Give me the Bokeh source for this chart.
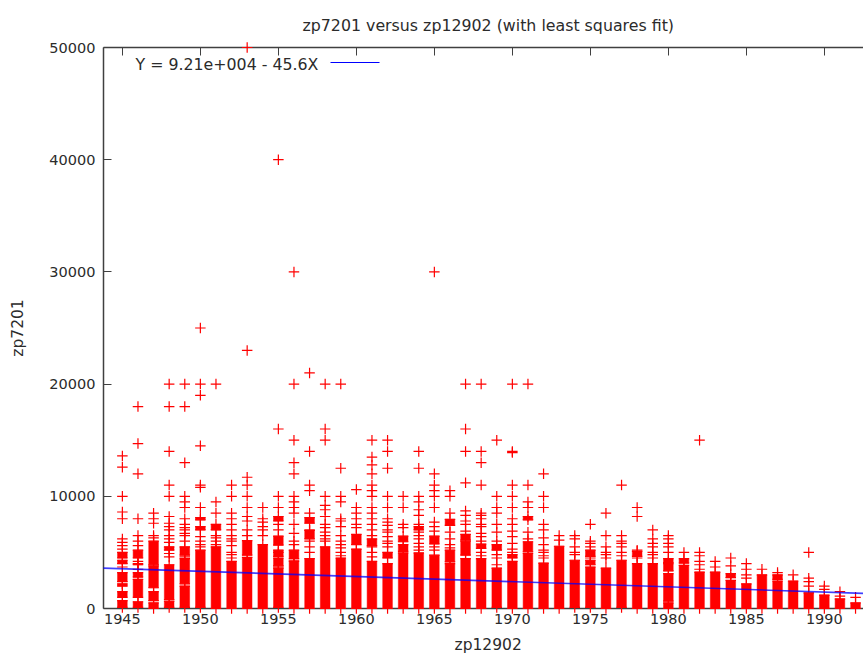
from bokeh.plotting import figure
from bokeh.models import Label, BoxAnnotation, FixedTicker, LinearAxis, Range1d, Title
from bokeh.embed import file_html
from bokeh.resources import INLINE

years = list(range(1945, 1993))
x_ticks = [1945, 1950, 1955, 1960, 1965, 1970, 1975, 1980, 1985, 1990]
y_ticks = [0, 10000, 20000, 30000, 40000, 50000]
fit_x = [1943.79, 1992.51]
fit_y = [3600, 1350]

# c = individual observations, b = (low, high) ranges so dense they read as solid
c1945 = [13600, 12600, 10000, 8600, 8000, 6200, 5900, 5600, 5300, 3700]
b1945 = [(100, 700), (1000, 1500), (2000, 2200), (2400, 3200), (4000, 4300), (4500, 5000)]
c1946 = [18000, 14700, 12000, 8000, 6500, 6000, 5600, 4200, 3500]
b1946 = [(100, 600), (1000, 2600), (2800, 3200), (3900, 4000), (4500, 5200)]
c1947 = [8500, 8000, 7600, 6500, 6300]
b1947 = [(0, 500), (700, 1500), (1850, 3800), (3900, 6000)]
c1948 = [20000, 18000, 14000, 11000, 10000, 8200, 7600, 7300, 7000, 6500, 6200, 5900, 4900, 4600]
b1948 = [(100, 650), (800, 3900), (5200, 5500)]
c1949 = [20000, 18000, 13000, 10000, 9500, 9000, 8000, 7500, 7200, 7000, 6700, 6500, 6000, 4600]
b1949 = [(100, 2000), (2200, 4450), (4750, 5500)]
c1950 = [25000, 20000, 19000, 14500, 11000, 10800, 9000, 6400, 6000, 5700, 5500]
b1950 = [(100, 5200), (7000, 7300), (7900, 8100)]
c1951 = [20000, 9500, 8500, 6500, 6300, 6000, 5700]
b1951 = [(0, 5500), (7000, 7500)]
c1952 = [11000, 10000, 8500, 8000, 7500, 7000, 6500, 6200, 6000, 5600, 5000, 4800, 4500]
b1952 = [(0, 4200)]
c1953 = [50000, 23000, 11700, 11000, 10000, 9000, 8200, 7800, 7000, 6500]
b1953 = [(0, 4550), (4750, 6050)]
c1954 = [9000, 8000, 7700, 7300, 7000, 6500]
b1954 = [(0, 5700)]
c1955 = [40000, 16000, 10000, 9000, 7500, 7000, 5000, 3700]
b1955 = [(100, 3600), (3800, 4500), (4650, 5200), (5650, 6450), (7800, 8200)]
c1956 = [30000, 20000, 15000, 13000, 12000, 10000, 9500, 9000, 8500, 7500, 6700, 6000, 5700, 4300]
b1956 = [(0, 4200), (4450, 5200)]
c1957 = [21000, 14000, 11000, 10500, 8500, 7000, 6000, 5500, 5000]
b1957 = [(0, 4450), (6200, 6950), (7600, 8100)]
c1958 = [20000, 16000, 15000, 10000, 9200, 8800, 8200, 7500, 7200, 6800, 6500, 6200, 6000]
b1958 = [(0, 5500)]
c1959 = [20000, 12500, 10000, 9500, 8000, 7800, 7300, 6500, 6000, 5700, 5400, 5000, 4700]
b1959 = [(0, 4500)]
c1960 = [10600, 9000, 8500, 8000, 7500, 7200]
b1960 = [(0, 5300), (5700, 6600)]
c1961 = [15000, 13500, 12800, 12000, 11000, 10500, 10000, 9000, 8500, 8000, 7500, 7000, 6500, 5500, 5000, 4600]
b1961 = [(0, 4200), (5600, 6200)]
c1962 = [15000, 14000, 12500, 10000, 9000, 8000, 7700, 7400, 7000, 6800, 6400, 6000, 5800, 5500]
b1962 = [(0, 4000), (4500, 5000)]
c1963 = [10000, 9000, 7500, 7200]
b1963 = [(0, 4950), (5100, 5700), (5950, 6450)]
c1964 = [14000, 12500, 10000, 9500, 8800, 8300, 7500, 6800, 6500, 6200, 5800, 5500, 5200]
b1964 = [(0, 4950), (7000, 7300)]
c1965 = [30000, 12000, 11000, 10500, 10000, 9000, 7700, 7300, 6900, 5500, 5200]
b1965 = [(0, 4750), (5750, 6450)]
c1966 = [10500, 10000, 8500, 6800, 6200, 5700, 5400]
b1966 = [(0, 4000), (4150, 5200), (7400, 7950)]
c1967 = [20000, 16000, 14000, 11200, 8700, 8300, 7800, 7500, 6900]
b1967 = [(0, 4450), (4750, 6000), (6100, 6600)]
c1968 = [20000, 14000, 13000, 11000, 8500, 8300, 8000, 7500, 7300, 6700, 6400, 6000, 5000, 4700]
b1968 = [(0, 4450), (5350, 5750)]
c1969 = [15000, 10000, 9000, 8500, 7500, 6800, 6000, 4800, 4500, 3900]
b1969 = [(100, 3600), (5200, 5700)]
c1970 = [20000, 14000, 13900, 11000, 10000, 9000, 8000, 7500, 6900, 6400, 5800, 5300, 5000]
b1970 = [(0, 4200), (4500, 4800)]
c1971 = [20000, 11000, 9500, 9000, 6800, 6200]
b1971 = [(0, 4900), (5050, 5950), (7900, 8200)]
c1972 = [12000, 10000, 9000, 7500, 7000, 6300, 5700, 5200, 5000, 4700, 4500]
b1972 = [(0, 4050)]
c1973 = [6500, 6100]
b1973 = [(0, 5550)]
c1974 = [6500, 6200, 5500, 5000, 4800]
b1974 = [(100, 4300)]
c1975 = [7500, 6000, 5800, 5500, 4500]
b1975 = [(100, 3700), (3900, 4300), (4650, 5200)]
c1976 = [8500, 6500, 5500, 5000, 4800, 4500]
b1976 = [(0, 3600)]
c1977 = [11000, 6500, 6000, 5800, 5500, 5000, 4700]
b1977 = [(100, 4300)]
c1978 = [9000, 8200, 5200, 4500]
b1978 = [(0, 4000), (4650, 5100)]
c1979 = [7000, 6200, 5800, 5500, 5000, 4800, 4500]
b1979 = [(0, 4000)]
c1980 = [6500, 6200, 5800, 5500, 5000]
b1980 = [(0, 500), (650, 3100), (3350, 4000), (4100, 4450)]
c1981 = [5000]
b1981 = [(0, 3850), (4050, 4450)]
c1982 = [15000, 5000, 4700, 4200, 3900, 3500]
b1982 = [(0, 3250)]
c1983 = [4200, 3700]
b1983 = [(0, 3250)]
c1984 = [4500, 3800]
b1984 = [(0, 2500), (2750, 3100)]
c1985 = [4000, 3500, 3000, 2700]
b1985 = [(0, 2200)]
c1986 = [3500]
b1986 = [(0, 3000)]
c1987 = [3200]
b1987 = [(0, 2450), (2600, 3000)]
c1988 = [3000]
b1988 = [(0, 2450)]
c1989 = [5000, 2700, 2400, 2000]
b1989 = [(0, 1400)]
c1990 = [2000, 1700]
b1990 = [(0, 1200)]
c1991 = [1500, 1100]
b1991 = [(0, 850)]
c1992 = [1000]
b1992 = [(0, 500)]

ink = "#2b2b2b"
axis_ink = "#404040"
font = "DejaVu Sans"

p = figure(width=863, height=662, output_backend="svg", toolbar_location=None,
           x_range=Range1d(fit_x[0], fit_x[1]), y_range=Range1d(0, 50000),
           min_border_left=103, min_border_right=0, min_border_top=47, min_border_bottom=54,
           y_axis_label="zp7201",
           title="zp7201 versus zp12902 (with least squares fit)")
p.grid.visible = False
p.outline_line_color = None
p.title.align = "left"
p.title.offset = 199
p.title.text_font = font
p.title.text_font_size = "15.8px"
p.title.text_font_style = "normal"
p.title.text_color = ink
p.title.standoff = 22
p.title.vertical_align = "top"

bottom = p.below[0]
left_ax = p.left[0]
top = LinearAxis(major_label_text_font_size="0px", major_label_standoff=0, major_label_text_color=None)
p.add_layout(top, "above")
for ax in (bottom, left_ax, top):
    ax.axis_line_color = axis_ink
    ax.axis_line_width = 1.5
    ax.major_tick_line_color = axis_ink
    ax.major_tick_in = 8
    ax.major_tick_out = 0
    ax.minor_tick_line_color = None
for ax in (bottom, left_ax):
    ax.major_label_text_font = font
    ax.major_label_text_font_size = "14.5px"
    ax.major_label_text_color = ink
    ax.axis_label_text_font = font
    ax.axis_label_text_font_size = "15.5px"
    ax.axis_label_text_font_style = "normal"
    ax.axis_label_text_color = ink
bottom.ticker = FixedTicker(ticks=x_ticks)
top.ticker = FixedTicker(ticks=x_ticks)
left_ax.ticker = FixedTicker(ticks=y_ticks)
bottom.major_label_standoff = 5
left_ax.major_label_standoff = 8
left_ax.axis_label_standoff = 19

xs, ys, cx, lo, hi = [], [], [], [], []
for y in years:
    for v in globals()[f"c{y}"]:
        xs.append(y)
        ys.append(v)
    for a, b in globals()[f"b{y}"]:
        lo.append(a)
        hi.append(b)
        cx.append(y)
        xs += [y, y]
        ys += [a, b]

p.vbar(x=cx, bottom=lo, top=hi, width=0.62, fill_color="#ff0000", line_color="#ff0000",
       line_width=0.5, level="overlay")
p.scatter(xs, ys, marker="cross", size=10.5, line_color="#ff0000", line_width=1.2, level="overlay")
p.line(fit_x, fit_y, line_color="#0000ff", line_width=1.6, line_alpha=0.75, level="overlay")

p.add_layout(Label(x=135, y=64, x_units="canvas", y_units="canvas", text="Y = 9.21e+004 - 45.6X",
                   text_baseline="middle", text_font=font, text_font_size="15.8px", text_color=ink))
p.add_layout(Title(text="zp12902", align="left", offset=351, standoff=14, text_font=font,
                   text_font_size="15.5px", text_font_style="normal", text_color=ink), "below")
p.add_layout(BoxAnnotation(left=330, right=379, top=62.5, bottom=61.5, left_units="canvas",
                           right_units="canvas", top_units="canvas", bottom_units="canvas",
                           fill_color="#0000ff", fill_alpha=1, line_color=None))

open("out.html", "w").write(file_html(p, INLINE))
